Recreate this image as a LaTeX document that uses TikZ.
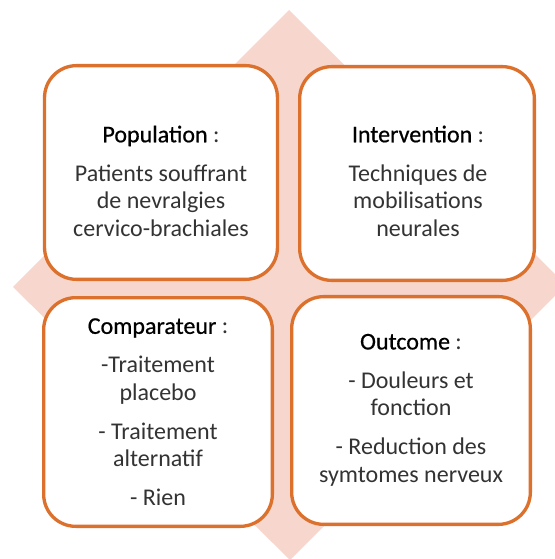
\documentclass[tikz,border=0pt]{standalone}
\usepackage{fontspec}
\setmainfont{Carlito}
\newfontface\titlefont{Carlito}[FakeBold=0.6]
\definecolor{pinkfill}{RGB}{247,215,205}
\definecolor{boxorange}{RGB}{220,113,45}
\tikzset{
  card/.style={draw=boxorange, line width=2.5pt, fill=white, rounded corners=24pt, inner sep=0pt},
  cardtext/.style={align=center, text=black!80, inner sep=0pt, font=\fontsize{18}{20.6}\selectfont},
}
\newcommand{\cardtitle}[1]{\textcolor{black}{\titlefont #1} :}
\begin{document}
\begin{tikzpicture}[x=0.75pt,y=-0.75pt]
\useasboundingbox (0,0) rectangle (555,559);
\coordinate (T) at (289,10);
\coordinate (R) at (566,285);
\coordinate (U) at (290,560);
\coordinate (L) at (13,287);

\fill[pinkfill] (T) -- (R) -- (U) -- (L) -- cycle;

\node[card, minimum width=174.7pt, minimum height=160.3pt] (pop) at (161,172.5) {};
\node[card, minimum width=176pt, minimum height=160.3pt] (int) at (417,173.5) {};
\node[card, minimum width=171.5pt, minimum height=171.5pt] (comp) at (158,412) {};
\node[card, minimum width=179pt, minimum height=170.8pt] (out) at (411,410.5) {};

\node[cardtext] (poptext) at (161,181) {\cardtitle{Population}\\[8.6pt]
  Patients souffrant\\ de nevralgies\\ cervico-brachiales};
\node[cardtext] (inttext) at (418,181) {\cardtitle{Intervention}\\[8.6pt]
  Techniques de\\ mobilisations\\ neurales};
\node[cardtext] (comptext) at (158,412) {\cardtitle{Comparateur}\\[8.6pt]
  -Traitement\\ placebo\\[8.6pt] - Traitement\\ alternatif\\[8.6pt] - Rien};
\node[cardtext] (outtext) at (411,410) {\cardtitle{Outcome}\\[8.6pt]
  - Douleurs et\\ fonction\\[8.6pt] - Reduction des\\ symtomes nerveux};
\end{tikzpicture}
\end{document}
